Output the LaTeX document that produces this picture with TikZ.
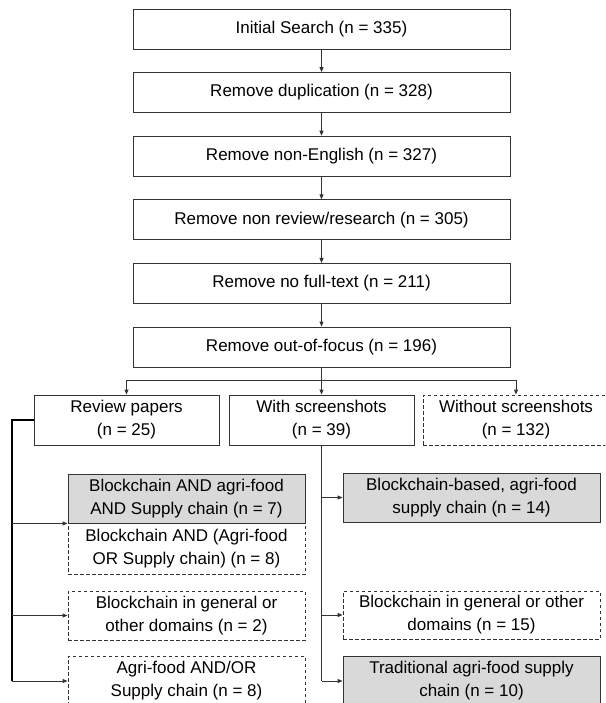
\documentclass[tikz,border=0pt]{standalone}
\usepackage{fontspec}
\setmainfont{Liberation Sans}
\usetikzlibrary{arrows.meta}
\definecolor{boxgray}{HTML}{D9D9D9}
\definecolor{linecol}{HTML}{333333}
\begin{document}
\begin{tikzpicture}[x=1pt,y=-1pt,
  every node/.style={font=\fontsize{17}{23}\selectfont, inner sep=0pt, align=center},
  basebox/.style={draw=linecol, line width=0.9pt, text=black},
  mainbox/.style={basebox, minimum width=377pt, minimum height=40pt},
  rowbox/.style={basebox, minimum width=185pt, minimum height=50pt},
  leftbox/.style={basebox, minimum width=237pt},
  rightbox/.style={basebox, minimum width=257pt},
  grayfill/.style={fill=boxgray},
  dashbox/.style={dash pattern=on 3.5pt off 2.5pt},
  conn/.style={draw=linecol, line width=0.9pt},
  arr/.style={conn, -{Triangle[length=5pt,width=4pt]}},
  thickarr/.style={draw=black, line width=1.3pt, -{Triangle[length=5pt,width=4pt]}}
]
\useasboundingbox (0,0) rectangle (605,703);
\clip (0,0) rectangle (605,703);

% main column
\node[mainbox] (b1) at (321.5,29) {Initial Search (n = 335)};
\node[mainbox] (b2) at (321.5,92.6) {Remove duplication (n = 328)};
\node[mainbox] (b3) at (321.5,156.2) {Remove non-English (n = 327)};
\node[mainbox] (b4) at (321.5,219.8) {Remove non review/research (n = 305)};
\node[mainbox] (b5) at (321.5,283.4) {Remove no full-text (n = 211)};
\node[mainbox] (b6) at (321.5,347) {Remove out-of-focus (n = 196)};

\draw[arr] (b1) -- (b2);
\draw[arr] (b2) -- (b3);
\draw[arr] (b3) -- (b4);
\draw[arr] (b4) -- (b5);
\draw[arr] (b5) -- (b6);

% second row
\node[rowbox] (rev) at (126.5,420) {Review papers\\(n = 25)};
\node[rowbox] (with) at (321.5,420) {With screenshots\\(n = 39)};
\node[rowbox, dashbox, minimum width=186pt] (wo) at (516,420) {Without screenshots\\(n = 132)};

\coordinate (split) at (321.5,380);
\draw[arr] (b6.south) -- (with.north);
\draw[conn] (split -| rev.north) -- (split -| wo.north);
\draw[arr] (split -| rev.north) -- (rev.north);
\draw[arr] (split -| wo.north) -- (wo.north);

% left column
\node[leftbox, grayfill, minimum height=49pt] (l1) at (186.5,498.5) {Blockchain AND agri-food\\AND Supply chain (n = 7)};
\node[leftbox, dashbox, minimum height=51pt] (l2) at (186.5,548.5) {Blockchain AND (Agri-food\\OR Supply chain) (n = 8)};
\node[leftbox, dashbox, minimum height=49pt] (l3) at (186.5,615.5) {Blockchain in general or\\other domains (n = 2)};
\node[leftbox, dashbox, minimum height=50pt] (l4) at (186.5,681) {Agri-food AND/OR\\Supply chain (n = 8)};

\coordinate (lx) at (12,420);
\draw[conn, line width=1.3pt, draw=black] (rev.west) -- (lx) -- (lx |- l4.west);
\draw[arr] (lx |- l1.south west) -- (l1.south west);
\draw[arr] (lx |- l3.west) -- (l3.west);
\draw[arr] (lx |- l4.west) -- (l4.west);

% right column
\node[rightbox, grayfill, minimum height=49pt] (r1) at (471.5,497.5) {Blockchain-based, agri-food\\supply chain (n = 14)};
\node[rightbox, dashbox, minimum height=48pt] (r2) at (471.5,615) {Blockchain in general or other\\domains (n = 15)};
\node[rightbox, grayfill, minimum height=50pt] (r3) at (471.5,681) {Traditional agri-food supply\\chain (n = 10)};

\draw[conn] (with.south) -- (with.south |- r3.west);
\draw[arr] (with.south |- r1.west) -- (r1.west);
\draw[arr] (with.south |- r2.west) -- (r2.west);
\draw[arr] (with.south |- r3.west) -- (r3.west);
\end{tikzpicture}
\end{document}
